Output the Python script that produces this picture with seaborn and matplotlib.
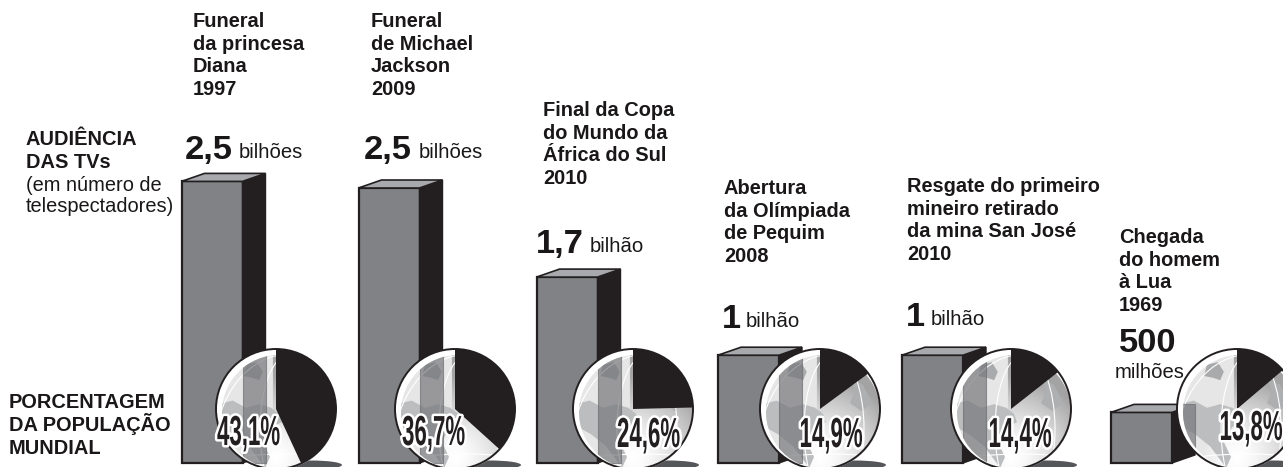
import numpy as np
import pandas as pd
import matplotlib
matplotlib.use("Agg")
import matplotlib.pyplot as plt
import matplotlib.patheffects as pe
from matplotlib.patches import Circle, Polygon, Ellipse, Rectangle
from matplotlib.transforms import Affine2D, Bbox
import seaborn as sns

# --- data ---
events = ["Diana", "Jackson", "Copa", "Pequim", "San José", "Lua"]
audience_drawn = [2.56, 2.50, 1.69, 0.98, 0.98, 0.46]   # bar height, billions (as drawn)
population_pct = [43.1, 36.7, 24.6, 14.9, 14.4, 13.8]
pct_labels = ["43,1%", "36,7%", "24,6%", "14,9%", "14,4%", "13,8%"]
bar_centers = [212, 389, 567, 748.5, 932.5, 1141.5]
pie_centers = [276, 455, 633, 820, 1011, 1237]
pct_label_x = [248.5, 433.5, 648.5, 831, 1020, 1251]
pct_label_y = [445, 445, 447, 447, 447, 440]

titles = [
    ["Funeral", "da princesa", "Diana", "1997"],
    ["Funeral", "de Michael", "Jackson", "2009"],
    ["Final da Copa", "do Mundo da", "África do Sul", "2010"],
    ["Abertura", "da Olímpiada", "de Pequim", "2008"],
    ["Resgate do primeiro", "mineiro retirado", "da mina San José", "2010"],
    ["Chegada", "do homem", "à Lua", "1969"],
]
title_x = [193, 371, 543, 724, 907, 1119]
title_y = [27, 27, 116, 194, 192, 243]
big_values = ["2,5", "2,5", "1,7", "1", "1", "500"]
big_x = [185, 364, 536, 722, 906, 1119]
big_y = [159, 159, 253, 328, 326, 352]
unit_labels = ["bilhões", "bilhões", "bilhão", "bilhão", "bilhão", "milhões"]
unit_x = [239, 419, 590, 746, 931, 1115]
unit_y = [158, 158, 252, 327, 325, 378]

W, H = 1283, 467
BASE = 463          # baseline pixel row
PX_PER_BILLION = 110
BAR_W, SIDE_W, SIDE_RISE = 61, 23, 8
R = 60
PIE_Y = 409
DARK, FACE, TOP = "#231f20", "#808285", "#a7a9ac"
SANS = ["Liberation Sans", "DejaVu Sans"]
SQUASH = 0.53

sns.set_theme(style="white")
plt.rcParams["font.family"] = SANS

fig = plt.figure(figsize=(W / 100, H / 100), dpi=100, facecolor="white")

# bar axes: billions on y, pixel columns on x
ax_bar = fig.add_axes([0, 0, 1, 1])
df = pd.DataFrame({"x": bar_centers, "audience": audience_drawn})
sns.barplot(data=df, x="x", y="audience", native_scale=True, width=BAR_W / 177,
            color=FACE, saturation=1, edgecolor=DARK, linewidth=1.6, ax=ax_bar)
ax_bar.set_xlim(0, W)
ax_bar.set_ylim(-(H - BASE) / PX_PER_BILLION, BASE / PX_PER_BILLION)
ax_bar.axis("off")

# overlay axes in pixels (y down) for the 3-D faces, globes and text
ax = fig.add_axes([0, 0, 1, 1], facecolor="none")
ax.set_xlim(0, W)
ax.set_ylim(H, 0)


class Squash(pe.Stroke):
    """Stroke that also condenses the glyphs horizontally about column cx."""
    def __init__(self, cx, sx, **kw):
        super().__init__(**kw)
        self.cx, self.sx = cx, sx

    def _offset_transform(self, renderer):
        return Affine2D().translate(-self.cx, 0).scale(self.sx, 1).translate(self.cx, 0)


def report_condensed_extent(text, cx, sx):
    """Make the text's extent describe its condensed ink."""
    full = text.get_window_extent

    def extent(renderer=None, dpi=None):
        b = full(renderer, dpi)
        return Bbox.from_extents(cx + (b.x0 - cx) * sx, b.y0, cx + (b.x1 - cx) * sx, b.y1)

    text.get_window_extent = extent


def txt(x, y, s, px, bold=True, **kw):
    return ax.text(x, y, s, fontsize=px * 0.72, fontweight="bold" if bold else "normal",
                   color=kw.pop("color", "#1a1718"), va="baseline", ha=kw.pop("ha", "left"),
                   zorder=kw.pop("zorder", 20), **kw)


GREEN = [(-.50, -.74), (-.32, -.78), (-.22, -.62), (-.28, -.48), (-.40, -.52), (-.55, -.55)]
NAM = [(-.98, -.08), (-.72, -.14), (-.50, -.02), (-.28, -.08), (-.08, -.02), (.05, .08), (.10, .22),
       (-.08, .30), (-.22, .55), (-.10, .80), (-.18, .98), (-.45, .62), (-.70, .42), (-.92, .30)]
EUR = [(.52, -.50), (.72, -.40), (.86, -.12), (.70, .04), (.50, -.10), (.58, -.28)]

xx, yy = np.meshgrid(np.linspace(-1, 1, 240), np.linspace(-1, 1, 240))
dist = np.hypot(xx - 0.0, yy - 0.8)
shade = 1.0 - 0.36 * np.clip(dist / 1.35, 0, 1) ** 1.5
shade = np.where(xx < -0.05, np.maximum(shade, 0.90), shade)

for i, (bar, pc, pct) in enumerate(zip(ax_bar.patches, pie_centers, population_pct)):
    left = bar.get_x()
    right = left + bar.get_width()
    top = BASE - bar.get_height() * PX_PER_BILLION
    # 3-D faces
    ax.add_patch(Polygon([(right, top), (right + SIDE_W, top - SIDE_RISE),
                          (right + SIDE_W, BASE - SIDE_RISE), (right, BASE)],
                         fc=DARK, ec=DARK, lw=1, zorder=2))
    ax.add_patch(Polygon([(left, top), (left + SIDE_W, top - SIDE_RISE),
                          (right + SIDE_W, top - SIDE_RISE), (right, top)],
                         fc=TOP, ec=DARK, lw=1.2, zorder=2))

    # globe
    ax.add_patch(Ellipse((pc + 35, 465), 62, 9, fc="#55565a", ec="none", zorder=3))
    ax.add_patch(Circle((pc, PIE_Y), R, fc="white", ec="none", zorder=4))
    inner = Circle((pc + 3, PIE_Y + 3), R * 0.95, transform=ax.transData, fc="none", ec="none", zorder=4)
    ax.add_patch(inner)
    im = ax.imshow(shade, cmap="gray", vmin=0, vmax=1, zorder=5, aspect="equal",
                   extent=(pc - R, pc + R, PIE_Y + R, PIE_Y - R), origin="upper")
    im.set_clip_path(inner)
    for shape, col in ((GREEN, "#a9aaac"), (NAM, "#bcbdbf"), (EUR, "#aeafb1")):
        p = Polygon([(pc + a * R, PIE_Y + b * R) for a, b in shape], fc=col, ec="none", zorder=6)
        ax.add_patch(p)
        p.set_clip_path(inner)
    for w, hh, cy in ((60, 150, 20), (150, 190, 40)):
        e = Ellipse((pc + 14, PIE_Y + cy), w, hh, fc="none", ec="white", lw=0.8, zorder=7)
        ax.add_patch(e)
        e.set_clip_path(inner)
    e = Ellipse((pc + 10, PIE_Y + 75), 230, 60, fc="none", ec="white", lw=0.8, zorder=7)
    ax.add_patch(e)
    e.set_clip_path(inner)

    # the bar's dark side shows through the globe as a translucent band
    band = Rectangle((right, top - SIDE_RISE), SIDE_W, BASE - top + SIDE_RISE,
                     fc="#77787b", ec="#6d6e71", lw=0.8, alpha=0.7, zorder=8)
    ax.add_patch(band)
    band.set_clip_path(inner)

    # share of the world population: black slice from 12 o'clock, clockwise on screen
    ax.pie([pct, 100 - pct], colors=[DARK, "none"], center=(pc, PIE_Y), radius=R, startangle=-90,
           counterclock=True, frame=True, wedgeprops={"linewidth": 0, "zorder": 9})
    ax.add_patch(Circle((pc, PIE_Y), R, fc="none", ec=DARK, lw=1.4, zorder=10))

ax.set_xlim(0, W)
ax.set_ylim(H, 0)
ax.axis("off")

# percent labels: condensed heavy digits with a white halo
for x, y, s in zip(pct_label_x, pct_label_y, pct_labels):
    t = ax.text(x, y, s, fontsize=42 * 0.72, fontweight="bold", color=DARK, ha="center", va="baseline",
                zorder=15, clip_on=False,
                path_effects=[Squash(x, SQUASH, linewidth=3.6, foreground="white"),
                              Squash(x, SQUASH, linewidth=0, foreground=DARK)])
    report_condensed_extent(t, x, SQUASH)

# event titles
for lines, x, y in zip(titles, title_x, title_y):
    for k, line in enumerate(lines):
        txt(x, y + k * 22.7, line, 20)

# headline numbers and units
for s, x, y in zip(big_values, big_x, big_y):
    txt(x, y, s, 34.5)
for s, x, y in zip(unit_labels, unit_x, unit_y):
    txt(x, y, s, 20.3, bold=False)

# left-hand captions
for k, s in enumerate(["AUDIÊNCIA", "DAS TVs"]):
    txt(26, 145 + k * 23, s, 20)
for k, s in enumerate(["(em número de", "telespectadores)"]):
    txt(26, 191 + k * 21.5, s, 20, bold=False)
for k, s in enumerate(["PORCENTAGEM", "DA POPULAÇÃO", "MUNDIAL"]):
    txt(9, 408 + k * 23, s, 20)

fig.savefig("out.png", dpi=100, facecolor="white")
